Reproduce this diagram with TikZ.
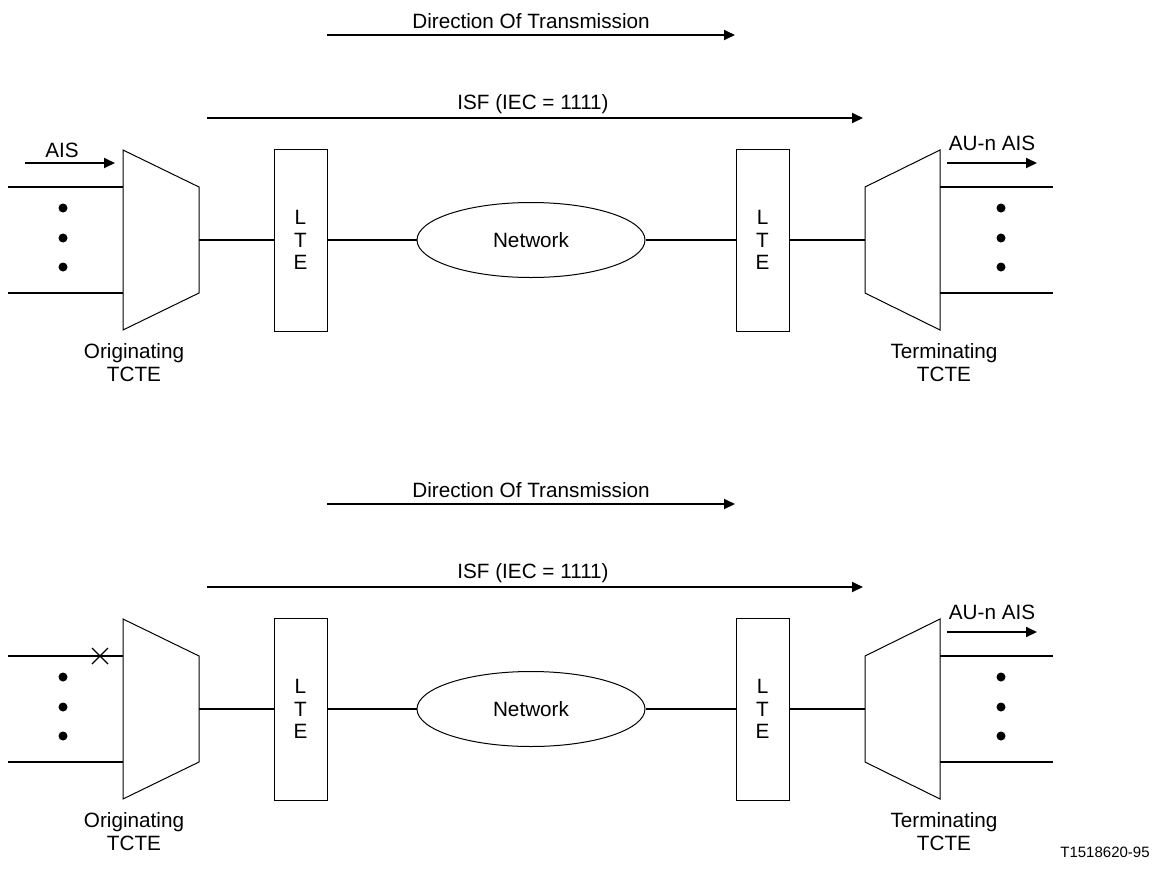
\documentclass[tikz,border=0pt]{standalone}
\usepackage{fontspec}
\setmainfont{Liberation Sans}
\usetikzlibrary{arrows.meta,shapes.geometric}
\newcommand\tctediagram{%
  \node[lbl] (dir) at (531,21) {Direction Of Transmission};
  \coordinate (dirA) at (327,35); \coordinate (dirB) at (735,35);
  \draw[arr] (dirA) -- (dirB);
  \node[lbl] (isf) at (533,104) {ISF (IEC = 1111)};
  \coordinate (isfA) at (207,118); \coordinate (isfB) at (863,118);
  \draw[arr] (isfA) -- (isfB);
  % originating TCTE
  \coordinate (o1) at (123,150); \coordinate (o2) at (199,187);
  \coordinate (o3) at (199,293); \coordinate (o4) at (123,330);
  \draw[outline] (o1) -- (o2) -- (o3) -- (o4) -- cycle;
  \coordinate (oout) at (199,240);
  \coordinate (oin1) at (123,187); \coordinate (oin2) at (123,293);
  \coordinate (lin1) at (8,187); \coordinate (lin2) at (8,293);
  \draw[wire] (lin1) -- (oin1);
  \draw[wire] (lin2) -- (oin2);
  \node[dot] (ld1) at (63,208) {};
  \node[dot] (ld2) at (63,238) {};
  \node[dot] (ld3) at (63,267) {};
  \node[lbl] (olab) at (134,363) {Originating\\TCTE};
  % chain
  \node[lte] (lte1) at (300.5,240) {L\\T\\E};
  \node[net] (net) at (531,240) {Network};
  \node[lte] (lte2) at (762.5,240) {L\\T\\E};
  % terminating TCTE
  \coordinate (t1) at (865,187); \coordinate (t2) at (940,150);
  \coordinate (t3) at (940,330); \coordinate (t4) at (865,293);
  \draw[outline] (t1) -- (t2) -- (t3) -- (t4) -- cycle;
  \coordinate (tin) at (865,240);
  \coordinate (tout1) at (940,187); \coordinate (tout2) at (940,293);
  \coordinate (rout1) at (1053,187); \coordinate (rout2) at (1053,293);
  \draw[wire] (tout1) -- (rout1);
  \draw[wire] (tout2) -- (rout2);
  \node[dot] (rd1) at (1001,208) {};
  \node[dot] (rd2) at (1001,238) {};
  \node[dot] (rd3) at (1001,267) {};
  \node[lbl] (tlab) at (944,363) {Terminating\\TCTE};
  \node[lbl] (aulab) at (992,143) {AU-n AIS};
  \coordinate (auA) at (947,163); \coordinate (auB) at (1037,163);
  \draw[arr] (auA) -- (auB);
  \draw[wire] (oout) -- (lte1.west);
  \draw[wire] (lte1.east) -- (net.west);
  \draw[wire] (net.east) -- (lte2.west);
  \draw[wire] (lte2.east) -- (tin);
}
\begin{document}
\begin{tikzpicture}[x=1pt,y=-1pt,
  lbl/.style={font=\fontsize{20.7}{23}\selectfont, inner sep=0pt, align=center},
  smalllbl/.style={font=\fontsize{15}{17}\selectfont, inner sep=0pt},
  wire/.style={line width=1.8pt},
  arr/.style={line width=1.8pt, -{Triangle[length=11pt,width=10pt]}},
  outline/.style={draw, line width=1pt},
  lte/.style={outline, rectangle, minimum width=53pt, minimum height=182pt, inner sep=0pt, align=center, font=\fontsize{20.7}{22.5}\selectfont},
  net/.style={outline, ellipse, minimum width=228pt, minimum height=75pt, inner sep=0pt, font=\fontsize{20.7}{23}\selectfont},
  dot/.style={circle, fill, inner sep=0pt, minimum size=9pt},
  xmark/.style={line width=1.2pt}
]
\useasboundingbox (0,0) rectangle (1152,879);
\fill[white] (0,0) rectangle (1152,879);
\begin{scope}[name prefix=a-]
  \tctediagram
  \node[lbl] (aislab) at (62,150) {AIS};
  \coordinate (aisA) at (25,163); \coordinate (aisB) at (115,163);
  \draw[arr] (aisA) -- (aisB);
\end{scope}
\begin{scope}[yshift=-469pt, name prefix=b-]
  \tctediagram
  \coordinate (x1) at (92,179); \coordinate (x2) at (108,195);
  \coordinate (x3) at (92,195); \coordinate (x4) at (108,179);
  \draw[xmark] (x1) -- (x2);
  \draw[xmark] (x3) -- (x4);
\end{scope}
\node[smalllbl] (fig) at (1105,852) {T1518620-95};
\end{tikzpicture}
\end{document}
